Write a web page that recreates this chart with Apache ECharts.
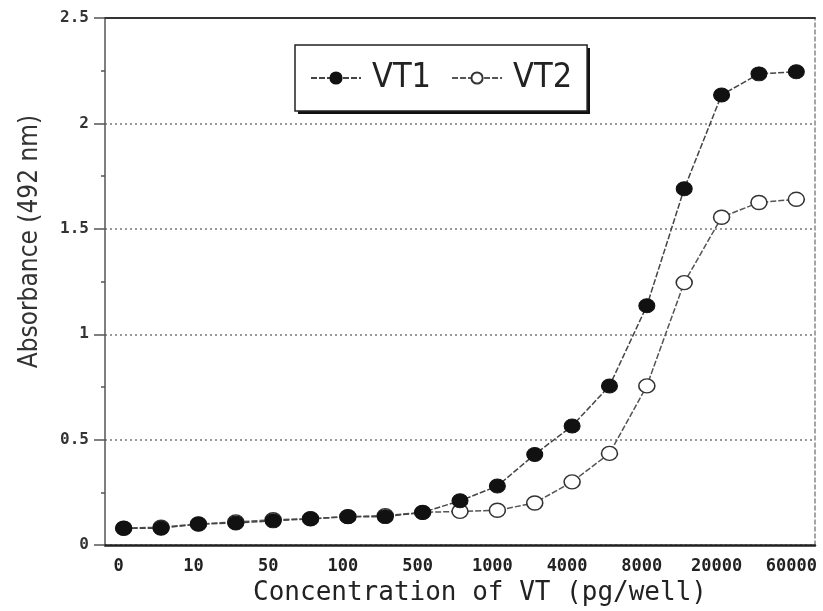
<!DOCTYPE html>
<html>
<head>
<meta charset="utf-8">
<script src="https://cdn.jsdelivr.net/npm/echarts@6/dist/echarts.min.js"></script>
<style>
html,body{margin:0;padding:0;background:#fff;}
#chart{width:823px;height:611px;}
</style>
</head>
<body>
<div id="chart"></div>
<script>
// Concentration categories (pg/well); only every other one is labelled in the original
var categories = ['0','5','10','25','50','75','100','250','500','750','1000','2000','4000','6000','8000','10000','20000','40000','60000'];
var vt1 = [0.08,0.08,0.10,0.105,0.115,0.125,0.135,0.135,0.155,0.21,0.28,0.43,0.565,0.755,1.135,1.69,2.135,2.235,2.245];
var vt2 = [0.08,0.085,0.10,0.11,0.12,0.125,0.135,0.14,0.155,0.16,0.165,0.20,0.30,0.435,0.755,1.245,1.555,1.625,1.64];
var yTicks = [0, 0.5, 1, 1.5, 2, 2.5];

var mono = "'DejaVu Sans Mono','Liberation Mono',monospace";
var narrow = "'Liberation Sans Narrow','DejaVu Sans Condensed','Liberation Sans',sans-serif";

var chart = echarts.init(document.getElementById('chart'), null, {renderer:'canvas'});
chart.setOption({
  backgroundColor:'#fff',
  animation:false,
  grid:{left:105,right:8,top:18,bottom:65},
  graphic:[{
    type:'rect', z:1, silent:true,
    left:298, top:48,
    shape:{width:292,height:66},
    style:{fill:'#111'}
  }],
  legend:{
    left:295, top:45,
    z:10,
    padding:[16,15,16,15],
    itemGap:20,
    itemWidth:50,
    itemHeight:14,
    backgroundColor:'#fff',
    borderColor:'#222',
    borderWidth:1.5,
    textStyle:{fontFamily:narrow,fontSize:34,color:'#222',padding:[0,0,0,6]},
    data:['VT1','VT2']
  },
  xAxis:[{
    type:'category',
    data:categories,
    boundaryGap:true,
    position:'bottom',
    axisLine:{onZero:false,lineStyle:{color:'#222',width:2.5}},
    axisTick:{alignWithLabel:true,interval:0,length:6,lineStyle:{color:'#666',width:1}},
    axisLabel:{interval:1,fontFamily:mono,fontSize:17,fontWeight:'bold',color:'#222',margin:13,padding:[0,10,0,0]},
    name:'Concentration of VT (pg/well)',
    nameLocation:'middle',
    nameGap:33,
    nameTextStyle:{fontFamily:mono,fontSize:26,color:'#222',padding:[0,0,0,40]},
    splitLine:{show:false}
  },{
    type:'category',
    data:categories,
    position:'top',
    axisLine:{show:true,onZero:false,lineStyle:{color:'#333',width:2}},
    axisTick:{show:false},
    axisLabel:{show:false},
    splitLine:{show:false}
  }],
  yAxis:[{
    type:'value',
    min:0,max:2.5,interval:0.5,
    position:'left',
    axisLine:{show:true,onZero:false,lineStyle:{color:'#555',width:1.5}},
    axisTick:{show:true,length:11,lineStyle:{color:'#555',width:1.5}},
    minorTick:{show:true,splitNumber:2,length:4,lineStyle:{color:'#555',width:1.5}},
    axisLabel:{fontFamily:mono,fontSize:16,fontWeight:'bold',color:'#333',margin:16,
      formatter:function(v){return yTicks.indexOf(v)>=0 ? String(v) : '';}},
    splitLine:{show:true,lineStyle:{color:'#777',type:[2,3],width:1.5}},
    name:'Absorbance (492 nm)',
    nameLocation:'middle',
    nameGap:62,
    nameRotate:90,
    nameTextStyle:{fontFamily:narrow,fontSize:26,color:'#333',padding:[0,0,0,80]}
  },{
    type:'value',
    min:0,max:2.5,interval:0.5,
    position:'right',
    axisLine:{show:true,onZero:false,lineStyle:{color:'#888',width:1.5,type:[4,3]}},
    axisTick:{show:false},
    axisLabel:{show:false},
    splitLine:{show:false}
  }],
  series:[{
    name:'VT1',
    type:'line',
    data:vt1,
    z:4,
    symbol:'circle',
    symbolSize:[16,14],
    itemStyle:{color:'#111',borderColor:'#111',borderWidth:1},
    lineStyle:{color:'#444',width:1.5,type:[6,2]}
  },{
    name:'VT2',
    type:'line',
    data:vt2,
    z:3,
    symbol:'circle',
    symbolSize:[16,14],
    itemStyle:{color:'#fff',borderColor:'#333',borderWidth:1.5},
    lineStyle:{color:'#555',width:1.5,type:[6,2]}
  }]
});
</script>
</body>
</html>
